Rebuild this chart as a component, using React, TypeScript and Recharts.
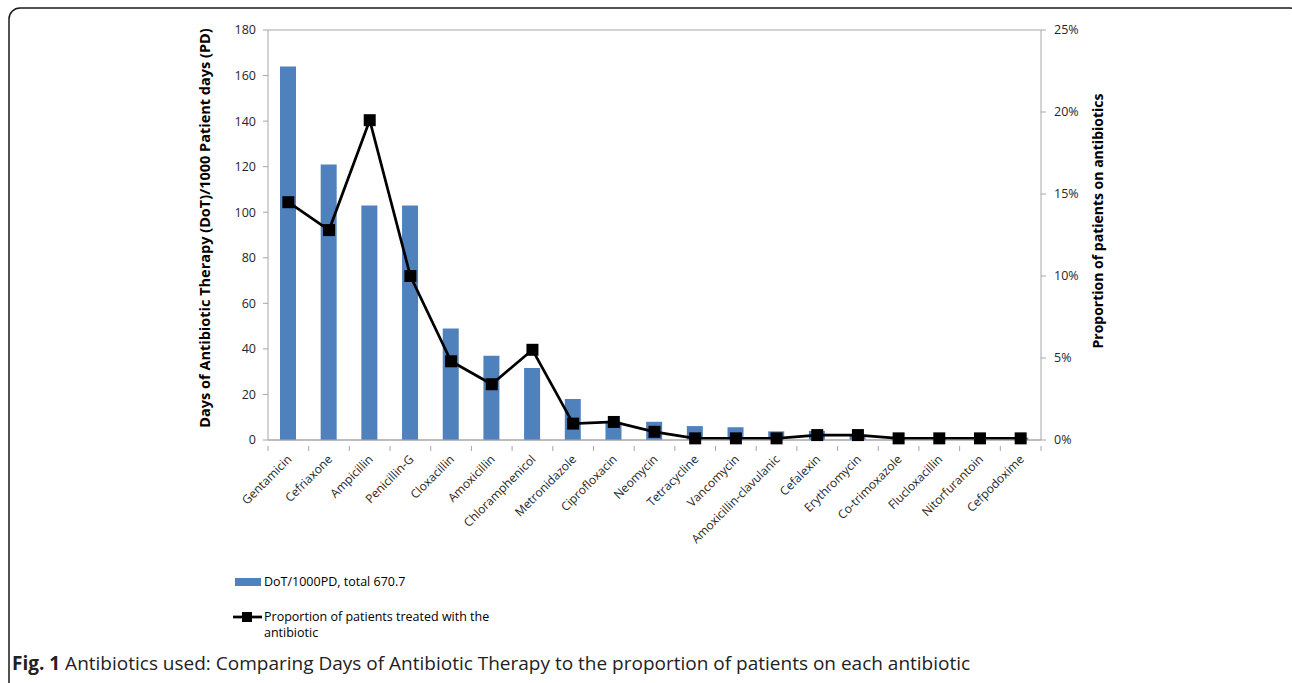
import React from 'react';
import {
    ComposedChart,
    Bar,
    Line,
    XAxis,
    YAxis,
    CartesianGrid,
} from 'recharts';

// Antibiotics, in the order of the chart
const antibiotics = [
    'Gentamicin', 'Cefriaxone', 'Ampicillin', 'Penicillin-G', 'Cloxacillin',
    'Amoxicillin', 'Chloramphenicol', 'Metronidazole', 'Ciprofloxacin', 'Neomycin',
    'Tetracycline', 'Vancomycin', 'Amoxicillin-clavulanic', 'Cefalexin', 'Erythromycin',
    'Co-trimoxazole', 'Flucloxacillin', 'Nitorfurantoin', 'Cefpodoxime',
];

// DoT / 1000 patient days
const dotPer1000 = [164, 121, 103, 103, 49, 37, 31.6, 18, 8, 8, 6.1, 5.6, 3.8, 4, 2, 1, 1, 1, 1];

// proportion of patients treated (%)
const proportion = [14.5, 12.8, 19.5, 10, 4.8, 3.4, 5.5, 1.0, 1.1, 0.5, 0.1, 0.1, 0.1, 0.3, 0.3, 0.1, 0.1, 0.1, 0.1];

const leftTicks = [0, 20, 40, 60, 80, 100, 120, 140, 160, 180];
const rightTicks = [0, 5, 10, 15, 20, 25];

const data = antibiotics.map((name, i) => ({
    name,
    dot: dotPer1000[i],
    prop: proportion[i],
}));

const FONT = '"Open Sans", "Liberation Sans", sans-serif';
const BAR_COLOR = '#4F81BD';
const GRID = '#A6A6A6';
const TEXT = '#262626';

const PLOT_LEFT = 268;
const PLOT_RIGHT = 1041;
const BAND = (PLOT_RIGHT - PLOT_LEFT) / antibiotics.length;

// category label rotated -45 + tick marks between categories
const CategoryTick = (props: any) => {
    const { x, y, payload, index } = props;
    const half = BAND / 2;
    return (
        <g>
            <line x1={x - half} y1={y - 2} x2={x - half} y2={y + 3} stroke={GRID} />
            {index === antibiotics.length - 1 && (
                <line x1={x + half} y1={y - 2} x2={x + half} y2={y + 3} stroke={GRID} />
            )}
            <text
                x={x + 4}
                y={y + 12}
                textAnchor="end"
                transform={`rotate(-45, ${x + 4}, ${y + 12})`}
                fontSize={12}
                fontFamily={FONT}
                fill={TEXT}
            >
                {payload.value}
            </text>
        </g>
    );
};

const SquareDot = (props: any) => {
    const { cx, cy } = props;
    if (cx == null || cy == null) return null;
    return <rect x={cx - 6} y={cy - 6} width={12} height={12} fill="#000" />;
};

export default function App() {
    return (
        <div style={{ position: 'fixed', left: 0, top: 0, width: 1292, height: 683, background: '#fff', overflow: 'hidden' }}>
            <svg width={1292} height={683} style={{ position: 'absolute', left: 0, top: 0 }}>
                <rect x={9} y={8} width={1292} height={690} rx={11} ry={11} fill="none" stroke="#1a1a1a" strokeWidth={1.5} />
            </svg>
            <div style={{ position: 'absolute', left: 0, top: 0 }}>
                <ComposedChart
                    width={1292}
                    height={683}
                    data={data}
                    margin={{ top: 30, right: 191, left: 208, bottom: 123 }}
                    barSize={16}
                >
                    <CartesianGrid horizontal vertical={false} stroke={GRID} strokeWidth={1} />
                    <XAxis
                        dataKey="name"
                        interval={0}
                        height={120}
                        axisLine={{ stroke: GRID }}
                        tickLine={false}
                        tick={<CategoryTick />}
                    />
                    <YAxis
                        yAxisId="left"
                        width={60}
                        domain={[0, 180]}
                        ticks={leftTicks}
                        axisLine={{ stroke: GRID }}
                        tickLine={{ stroke: GRID }}
                        tickSize={5}
                        tickMargin={7}
                        tick={{ fontSize: 12.5, fontFamily: FONT, fill: TEXT }}
                    />
                    <YAxis
                        yAxisId="right"
                        orientation="right"
                        width={60}
                        domain={[0, 25]}
                        ticks={rightTicks}
                        tickFormatter={(v: number) => `${v}%`}
                        axisLine={{ stroke: GRID }}
                        tickLine={{ stroke: GRID }}
                        tickSize={5}
                        tickMargin={8}
                        tick={{ fontSize: 12.5, fontFamily: FONT, fill: TEXT }}
                    />
                    <Bar yAxisId="left" dataKey="dot" fill={BAR_COLOR} isAnimationActive={false} />
                    <Line
                        yAxisId="right"
                        dataKey="prop"
                        type="linear"
                        stroke="#000"
                        strokeWidth={2.75}
                        dot={<SquareDot />}
                        activeDot={false}
                        isAnimationActive={false}
                    />
                </ComposedChart>
            </div>
            <svg width={1292} height={683} style={{ position: 'absolute', left: 0, top: 0, pointerEvents: 'none' }}>
                {/* axis titles */}
                <text
                    x={210}
                    y={228}
                    textAnchor="middle"
                    transform="rotate(-90, 210, 228)"
                    fontSize={14.5}
                    fontWeight="bold"
                    fontFamily={FONT}
                    fill="#000"
                >
                    Days of Antibiotic Therapy (DoT)/1000 Patient days (PD)
                </text>
                <text
                    x={1103}
                    y={221}
                    textAnchor="middle"
                    transform="rotate(-90, 1103, 221)"
                    fontSize={14}
                    fontWeight="bold"
                    fontFamily={FONT}
                    fill="#000"
                >
                    Proportion of patients on antibiotics
                </text>
                {/* legend */}
                <rect x={235} y={578} width={26} height={8} fill={BAR_COLOR} />
                <text x={264} y={586} fontSize={12.5} fontFamily={FONT} fill="#000">DoT/1000PD, total 670.7</text>
                <line x1={233} y1={617} x2={262} y2={617} stroke="#000" strokeWidth={2.75} />
                <rect x={242} y={612} width={10} height={10} fill="#000" />
                <text x={264} y={621} fontSize={12.5} fontFamily={FONT} fill="#000">Proportion of patients treated with the</text>
                <text x={264} y={637} fontSize={12.5} fontFamily={FONT} fill="#000">antibiotic</text>
                {/* caption */}
                <text x={12} y={670} fontSize={19} fontFamily={FONT} fill="#222">
                    <tspan fontWeight="bold">Fig. 1</tspan>
                    <tspan> Antibiotics used: Comparing Days of Antibiotic Therapy to the proportion of patients on each antibiotic</tspan>
                </text>
            </svg>
        </div>
    );
}
